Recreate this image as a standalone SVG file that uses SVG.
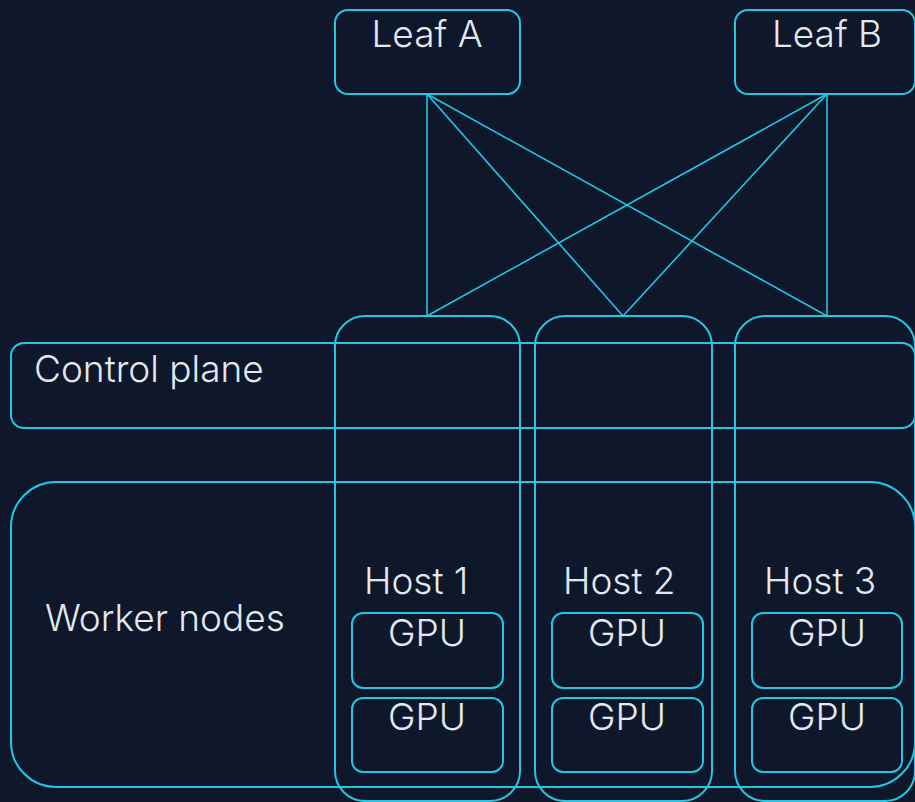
<svg xmlns="http://www.w3.org/2000/svg" width="915" height="802" viewBox="0 0 915 802">
<style>
.b{fill:none;stroke:#22c7e4;stroke-width:2}
.c{stroke:#22c7e4;stroke-width:1.6;fill:none}
.t{font-family:Inter,"Noto Sans",sans-serif;font-weight:300;font-size:37px;fill:#e2e8f0}
.m{text-anchor:middle}
</style>
<rect width="915" height="802" fill="#0f172a"/>
<g id="connectors">
<line class="c" x1="427" y1="94" x2="427" y2="316"/>
<line class="c" x1="427" y1="94" x2="623" y2="316"/>
<line class="c" x1="427" y1="94" x2="827" y2="316"/>
<line class="c" x1="827" y1="94" x2="427" y2="316"/>
<line class="c" x1="827" y1="94" x2="623" y2="316"/>
<line class="c" x1="827" y1="94" x2="827" y2="316"/>
</g>
<g id="leafA"><rect class="b" x="335" y="10" width="185" height="84" rx="13"/><text class="t m" x="427" y="47">Leaf A</text></g>
<g id="leafB"><rect class="b" x="735" y="10" width="180" height="84" rx="13"/><text class="t m" x="827" y="47">Leaf B</text></g>
<g id="control"><rect class="b" x="11" y="343" width="904" height="85" rx="13"/><text class="t" x="34" y="382">Control plane</text></g>
<g id="workers"><rect class="b" x="11" y="482" width="904" height="305" rx="45"/><text class="t" x="45" y="631">Worker nodes</text></g>
<g id="host1"><rect class="b" x="335" y="316" width="185" height="485" rx="30"/><text class="t" x="364" y="594">Host 1</text>
<rect class="b" x="352" y="613" width="151" height="75" rx="11"/><text class="t m" x="427" y="646">GPU</text>
<rect class="b" x="352" y="698" width="151" height="74" rx="11"/><text class="t m" x="427" y="730">GPU</text></g>
<g id="host2"><rect class="b" x="535" y="316" width="177" height="485" rx="30"/><text class="t" x="563" y="594">Host 2</text>
<rect class="b" x="552" y="613" width="151" height="75" rx="11"/><text class="t m" x="627" y="646">GPU</text>
<rect class="b" x="552" y="698" width="151" height="74" rx="11"/><text class="t m" x="627" y="730">GPU</text></g>
<g id="host3"><rect class="b" x="735" y="316" width="180" height="485" rx="30"/><text class="t" x="764" y="594">Host 3</text>
<rect class="b" x="752" y="613" width="150" height="75" rx="11"/><text class="t m" x="827" y="646">GPU</text>
<rect class="b" x="752" y="698" width="150" height="74" rx="11"/><text class="t m" x="827" y="730">GPU</text></g>
</svg>
